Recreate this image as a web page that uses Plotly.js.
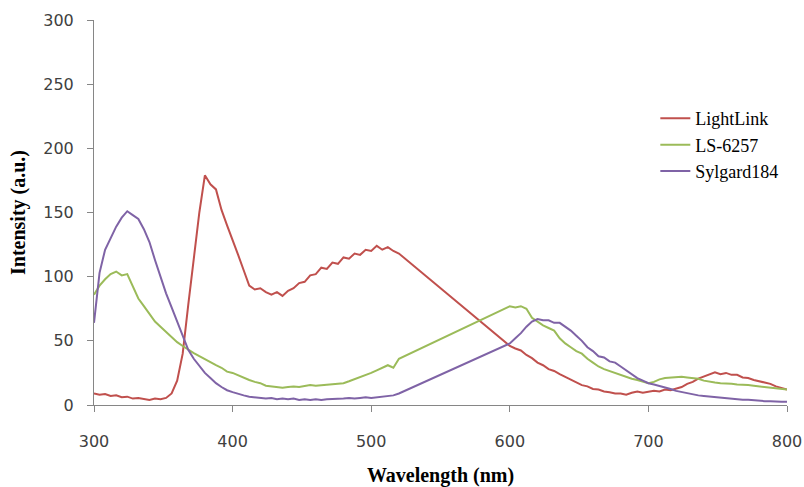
<!DOCTYPE html>
<html>
<head>
<meta charset="utf-8">
<script src="https://cdn.plot.ly/plotly-3.0.1.min.js"></script>
<style>html,body{margin:0;padding:0;background:#fff;}#chart{width:804px;height:487px;}</style>
</head>
<body>
<div id="chart"></div>
<script>
// Wavelength grids (nm): measured region 1 and region 2 (gap in between is joined by a straight line)
const wavelength1 = [300,304,308,312,316,320,324,328,332,336,340,344,348,352,356,360,364,368,372,376,380,384,388,392,396,400,404,408,412,416,420,424,428,432,436,440,444,448,452,456,460,464,468,472,476,480,484,488,492,496,500,504,508,512,516,520];
const wavelength2 = [600,604,608,612,616,620,624,628,632,636,640,644,648,652,656,660,664,668,672,676,680,684,688,692,696,700,704,708,712,716,720,724,728,732,736,740,744,748,752,756,760,764,768,772,776,780,784,788,792,796,800];

const seriesNames = ["LightLink", "LS-6257", "Sylgard184"];

const lightLink1 = [9,8,8.5,7,7.5,6,6.5,5,5.5,4.5,4,5,4.5,5.5,9,19,40,78,116,150,179,172,168,152,140,129,117,105,93,90,91,88,86,88,85,89,91,95,96,101,102,107,106,111,110,115,114,118,117,121,120,124,121,123,120,118];
const lightLink2 = [46,44,42.5,39,36.5,33,31,28,26.5,24,22,19.5,18,15.5,14.5,12.5,12,10.5,10,9,9,8,9.5,10.5,9.5,10.5,11,10.5,12,11.5,13,14,16.5,18,20.5,22,23.5,25.5,24,25,23.5,23.5,21.5,21,19.5,18.5,17,16.5,14.5,13.5,12];

const ls6257_1 = [86,93,98,102,104,101,102,92,83,77,71,65,61,57,53,49,46,43,40.5,38,35.5,33,31,29,26,25,23,21,19.5,18,17,15,14.5,14,13.5,14,14.5,14,15,15.5,15,15.5,16,16,16.5,17,18.5,20,22,23.5,25,27,29,31,29,36];
const ls6257_2 = [77,76,77,75,68,65,62,60,58,52,48,45,42,40,36,33,30,28,26.5,24.5,23.5,21.5,20.5,19.5,18.5,17,18,20,21,21.5,22,22,21.5,21,20.5,19,18,17.5,17,17,16.5,16,16,15.5,15,14.5,14,13.5,13,12.5,12];

const sylgard1 = [64,103,121,130,139,146,151,148,145,137,127,113,99,87,76,65,53,43,36,30,25,21,17,14,11.5,10,8.5,7.5,6.5,6,6,5,5.5,4.5,5,4.5,5,4,4.5,4,4.5,4,4.5,4.5,5,5,5.5,5,5.5,6,5.5,6,6.5,7,7.5,9];
const sylgard2 = [48,52,56,61,65,67,66,66,64,64,61,58,54,50,45,42,38,37,34,33,30,27,24,21,19,17,16,15,14,12.5,11,10,9,8.5,7.5,7,6.5,6,5.5,5.5,5,4.5,4,4,3.5,3.5,3,3,2.5,2.5,2.5];

const xTicks = [300,400,500,600,700,800];
const yTicks = [0,50,100,150,200,250,300];

const colors = ["#C0504D", "#9BBB59", "#7F63A6"];
const allX = wavelength1.concat(wavelength2);
const ys = [lightLink1.concat(lightLink2), ls6257_1.concat(ls6257_2), sylgard1.concat(sylgard2)];

const traces = seriesNames.map((name, i) => ({
  type: "scatter",
  mode: "lines",
  name: name,
  x: allX,
  y: ys[i],
  line: {color: colors[i], width: 2}
}));

const axisCommon = {
  showgrid: false,
  zeroline: false,
  showline: true,
  linecolor: "#868686",
  linewidth: 1,
  ticks: "outside",
  ticklen: 6,
  tickwidth: 1,
  tickcolor: "#868686",
  tickfont: {family: "DejaVu Sans", size: 16, color: "#404040"}
};

const layout = {
  width: 804,
  height: 487,
  margin: {l: 94, r: 17, t: 20, b: 82},
  paper_bgcolor: "#ffffff",
  plot_bgcolor: "#ffffff",
  showlegend: true,
  legend: {
    x: 0.81, y: 0.792, xanchor: "left", yanchor: "top",
    font: {family: "Liberation Serif", size: 18, color: "#000000"},
    bgcolor: "rgba(0,0,0,0)",
    tracegroupgap: 0
  },
  xaxis: Object.assign({}, axisCommon, {
    range: [300, 800],
    tickvals: xTicks,
    ticktext: xTicks.map(String),
    ticklabelstandoff: 16,
    title: {text: "Wavelength (nm)", font: {family: "Liberation Serif", size: 20, color: "#000000", weight: "bold"}, standoff: 19}
  }),
  yaxis: Object.assign({}, axisCommon, {
    range: [0, 300],
    tickvals: yTicks,
    ticktext: yTicks.map(String),
    ticklabelstandoff: 10,
    title: {text: "Intensity (a.u.)", font: {family: "Liberation Serif", size: 20, color: "#000000", weight: "bold"}, standoff: 12}
  })
};

Plotly.newPlot("chart", traces, layout, {displayModeBar: false, staticPlot: true});
</script>
</body>
</html>
